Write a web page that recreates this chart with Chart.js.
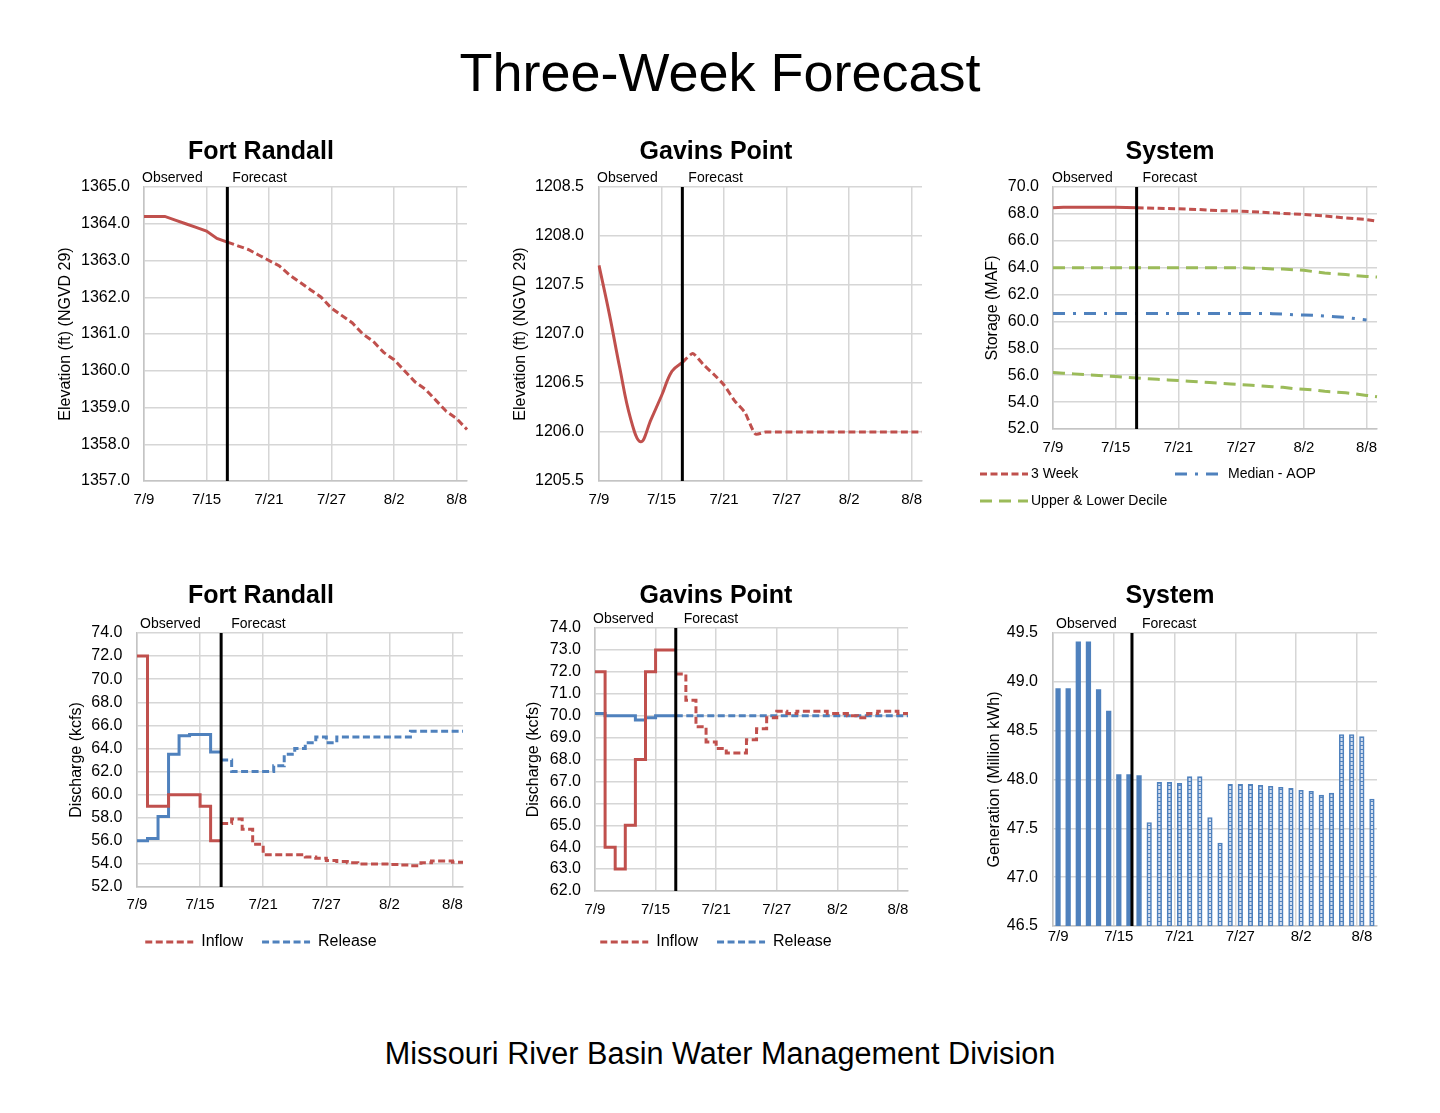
<!DOCTYPE html>
<html>
<head>
<meta charset="utf-8">
<script src="https://cdn.jsdelivr.net/npm/chart.js@4.4.1/dist/chart.umd.min.js"></script>
<style>
  body { margin: 0; background: #fff; width: 1440px; height: 1113px; position: relative; overflow: hidden;
         font-family: "Liberation Sans", Arial, sans-serif; color: #000; }
  .panel { position: absolute; }
  #title { position: absolute; left: 0; top: 40px; width: 1440px; line-height: 64px; text-align: center; font-size: 54px; }
  #footer { position: absolute; left: 0; top: 1033px; width: 1440px; line-height: 40px; text-align: center; font-size: 30.6px; }
</style>
</head>
<body>
<div id="title">Three-Week Forecast</div>
<canvas id="frElev" class="panel" style="left:55px;top:120px" width="425" height="400"></canvas>
<canvas id="gpElev" class="panel" style="left:510px;top:120px" width="425" height="400"></canvas>
<canvas id="sysStor" class="panel" style="left:963px;top:120px" width="432" height="400"></canvas>
<canvas id="frFlow" class="panel" style="left:59px;top:570px" width="421" height="390"></canvas>
<canvas id="gpFlow" class="panel" style="left:524px;top:570px" width="411" height="390"></canvas>
<canvas id="sysGen" class="panel" style="left:963px;top:570px" width="432" height="390"></canvas>
<div id="footer">Missouri River Basin Water Management Division</div>

<script>
// x axis: one category per day, 7/9 .. 8/9
const days = ['7/9', '7/10', '7/11', '7/12', '7/13', '7/14', '7/15', '7/16', '7/17', '7/18', '7/19',
  '7/20', '7/21', '7/22', '7/23', '7/24', '7/25', '7/26', '7/27', '7/28', '7/29', '7/30', '7/31',
  '8/1', '8/2', '8/3', '8/4', '8/5', '8/6', '8/7', '8/8', '8/9'];
const FCST = 8; // 7/17, observed / forecast split

// Fort Randall elevation (ft)
const frElevObs = [1364.2, 1364.2, 1364.2, 1364.1, 1364.0, 1363.9, 1363.8, 1363.6, 1363.5];
const frElevFcst = [1363.5, 1363.4, 1363.3, 1363.15, 1363.0, 1362.85, 1362.6, 1362.4, 1362.2, 1362.0,
  1361.7, 1361.5, 1361.3, 1361.0, 1360.8, 1360.5, 1360.3, 1360.0, 1359.7, 1359.5, 1359.2, 1358.9, 1358.7, 1358.4];

// Gavins Point elevation (ft)
const gpElevObs = [1207.7, 1207.2, 1206.65, 1206.15, 1205.9, 1206.13, 1206.37, 1206.62, 1206.71];
const gpElevFcst = [1206.71, 1206.8, 1206.69, 1206.59, 1206.48, 1206.32, 1206.2, 1205.98, 1206.0, 1206.0,
  1206.0, 1206.0, 1206.0, 1206.0, 1206.0, 1206.0, 1206.0, 1206.0, 1206.0, 1206.0, 1206.0, 1206.0, 1206.0, 1206.0];

// System storage (MAF)
const stor3wObs = [68.45, 68.5, 68.5, 68.5, 68.5, 68.5, 68.5, 68.48, 68.45];
const stor3wFcst = [68.45, 68.44, 68.42, 68.4, 68.38, 68.35, 68.32, 68.28, 68.24, 68.22, 68.2, 68.16,
  68.12, 68.08, 68.04, 68.0, 67.96, 67.9, 67.84, 67.78, 67.7, 67.64, 67.58, 67.46];
const storMedian = [60.6, 60.6, 60.6, 60.6, 60.6, 60.6, 60.6, 60.6, 60.6, 60.6, 60.6, 60.6, 60.6, 60.6,
  60.6, 60.6, 60.6, 60.6, 60.6, 60.6, 60.6, 60.58, 60.55, 60.5, 60.48, 60.45, 60.4, 60.35, 60.3, 60.2, 60.1];
const storUpper = [64.0, 64.0, 64.0, 64.0, 64.0, 64.0, 64.0, 64.0, 64.0, 64.0, 64.0, 64.0, 64.0, 64.0,
  64.0, 64.0, 64.0, 64.0, 64.0, 63.95, 63.95, 63.9, 63.9, 63.85, 63.8, 63.7, 63.6, 63.55, 63.5, 63.4, 63.35, 63.3];
const storLower = [56.2, 56.15, 56.1, 56.05, 56.0, 55.95, 55.9, 55.85, 55.8, 55.75, 55.7, 55.65, 55.6,
  55.55, 55.5, 55.45, 55.4, 55.35, 55.3, 55.25, 55.2, 55.15, 55.1, 55.0, 54.95, 54.9, 54.8, 54.75, 54.7, 54.6, 54.5, 54.4];

// Fort Randall discharge (kcfs)
const frInObs = [72.0, 59.0, 59.0, 60.0, 60.0, 60.0, 59.0, 56.0, 56.0];
const frInFcst = [57.5, 57.9, 57.0, 55.7, 54.8, 54.8, 54.8, 54.8, 54.6, 54.5, 54.3, 54.2, 54.1, 54.0,
  54.0, 54.0, 53.95, 53.9, 53.85, 54.1, 54.25, 54.25, 54.15, 54.15];
const frRelObs = [56.0, 56.2, 58.1, 63.5, 65.1, 65.2, 65.2, 63.7, 63.7];
const frRelFcst = [63.0, 62.0, 62.0, 62.0, 62.0, 62.5, 63.5, 64.0, 64.5, 65.0, 64.5, 65.0, 65.0, 65.0,
  65.0, 65.0, 65.0, 65.0, 65.5, 65.5, 65.5, 65.5, 65.5, 65.5];

// Gavins Point discharge (kcfs)
const gpInObs = [72.0, 64.0, 63.0, 65.0, 68.0, 72.0, 73.0, 73.0, 73.0];
const gpInFcst = [71.9, 70.7, 69.5, 68.8, 68.5, 68.3, 68.3, 68.9, 69.4, 69.9, 70.2, 70.1, 70.2, 70.2,
  70.2, 70.1, 70.1, 70.0, 69.9, 70.1, 70.2, 70.2, 70.1, 70.1];
const gpRelObs = [70.1, 70.0, 70.0, 70.0, 69.8, 69.9, 70.0, 70.0, 70.0];
const gpRelFcst = [70.0, 70.0, 70.0, 70.0, 70.0, 70.0, 70.0, 70.0, 70.0, 70.0, 70.0, 70.0, 70.0, 70.0,
  70.0, 70.0, 70.0, 70.0, 70.0, 70.0, 70.0, 70.0, 70.0, 70.0];

// System generation (million kWh)
const genObs = [48.93, 48.93, 49.41, 49.41, 48.92, 48.70, 48.05, 48.05, 48.04];
const genFcst = [47.56, 47.97, 47.97, 47.96, 48.03, 48.03, 47.61, 47.35, 47.95, 47.95, 47.95, 47.94,
  47.93, 47.92, 47.91, 47.89, 47.88, 47.84, 47.86, 48.46, 48.46, 48.44, 47.80];

const RED = '#c0504d', BLUE = '#4f81bd', GREEN = '#9bbb59';
const GRID = '#d6d6d6', AXIS = '#c4c4c4';
const FONT = "'Liberation Sans', Arial, sans-serif";
const SHORT_DASH = [7, 3.5];

Chart.defaults.font.family = FONT;
Chart.defaults.color = '#000';

// put a partial series on the 32-day axis
function onAxis(values, start) {
  const out = days.map(() => null);
  values.forEach((v, i) => { out[start + i] = v; });
  return out;
}

function series(label, values, start, color, dash, extra) {
  return Object.assign({
    label: label, data: onAxis(values, start), borderColor: color, backgroundColor: color,
    borderWidth: 3, borderDash: dash || [], pointRadius: 0, fill: false
  }, extra || {});
}

// black observed/forecast divider plus its two captions
const dividerPlugin = {
  id: 'divider',
  afterDatasetsDraw(chart, args, opts) {
    if (opts.at === undefined) return;
    const {ctx, chartArea: a} = chart;
    const px = chart.scales.x.getPixelForValue(opts.at);
    ctx.save();
    ctx.strokeStyle = '#000';
    ctx.lineWidth = 3;
    ctx.beginPath();
    ctx.moveTo(px, a.top);
    ctx.lineTo(px, a.bottom);
    ctx.stroke();
    ctx.font = '14px ' + FONT;
    ctx.fillStyle = '#000';
    ctx.textBaseline = 'middle';
    ctx.fillText('Observed', a.left + opts.obsShift, a.top - 9);
    ctx.fillText('Forecast', px + opts.gap, a.top - 9);
    ctx.restore();
  }
};
Chart.register(dividerPlugin);

// storage legend: two columns, wraps onto a second row
const storageLegend = {
  id: 'storageLegend',
  afterDraw(chart, args, opts) {
    if (!opts.items) return;
    const {ctx} = chart;
    const sets = chart.data.datasets;
    ctx.save();
    ctx.font = '14px ' + FONT;
    ctx.textBaseline = 'middle';
    opts.items.forEach(it => {
      const ds = sets[it.dataset];
      const y = chart.chartArea.bottom + it.dy;
      ctx.strokeStyle = ds.borderColor;
      ctx.lineWidth = ds.borderWidth;
      ctx.setLineDash(ds.borderDash);
      ctx.beginPath();
      ctx.moveTo(it.x, y);
      ctx.lineTo(it.x + it.w, y);
      ctx.stroke();
      ctx.setLineDash([]);
      ctx.fillStyle = '#000';
      ctx.fillText(ds.label, it.x + it.w + it.gap, y);
    });
    ctx.restore();
  }
};

function legendLabels(chart) {
  return chart.data.datasets
    .map((ds, i) => ({
      text: ds.label, strokeStyle: ds.borderColor, fillStyle: 'transparent', lineWidth: ds.borderWidth,
      lineDash: ds.borderDash, pointStyle: 'line', hidden: false, datasetIndex: i, inLegend: ds.inLegend
    }))
    .filter(item => item.inLegend);
}

function makeOptions(o) {
  return {
    responsive: false,
    animation: false,
    events: [],
    layout: { padding: { left: 0, right: o.right, top: 0, bottom: o.bottom || 0 } },
    plugins: {
      title: {
        display: true, text: o.title, color: '#000', font: { size: 25, weight: 'bold' },
        padding: { top: o.titleTop, bottom: o.titleBottom }
      },
      legend: o.legend ? {
        display: true, position: 'bottom',
        labels: {
          usePointStyle: true, pointStyle: 'line', pointStyleWidth: 48, padding: 19,
          color: '#000', font: { size: 16 }, generateLabels: legendLabels
        }
      } : { display: false },
      tooltip: { enabled: false },
      divider: { at: o.divider, gap: o.gap, obsShift: o.obsShift }
    },
    scales: {
      x: {
        type: 'category',
        offset: !!o.bars,
        grid: {
          color: c => (c.index % 6 === 0 ? GRID : 'transparent'),
          lineWidth: 1.5, drawTicks: false, offset: !!o.bars
        },
        border: { color: AXIS, width: 1.5 },
        ticks: {
          autoSkip: false, maxRotation: 0, minRotation: 0, padding: o.xPad,
          font: { size: 15 }, color: '#000',
          callback: (v, i) => (i % 6 === 0 ? days[i] : '')
        },
        afterFit: s => { s.height = o.xHeight; }
      },
      y: {
        min: o.min, max: o.max,
        grid: { color: GRID, lineWidth: 1.5, drawTicks: false },
        border: { color: AXIS, width: 1.5 },
        ticks: {
          stepSize: o.step, autoSkip: false, padding: o.yPad, font: { size: 16 }, color: '#000',
          callback: v => v.toFixed(1)
        },
        title: {
          display: true, text: o.yTitle, color: '#000', font: { size: 16 },
          padding: { top: o.yTitlePad, bottom: 0 }
        },
        afterFit: s => { s.width = o.yWidth; }
      }
    }
  };
}

// 1. Fort Randall elevation
new Chart(document.getElementById('frElev'), {
  type: 'line',
  data: {
    labels: days,
    datasets: [
      series('Observed', frElevObs, 0, RED),
      series('Forecast', frElevFcst, FCST, RED, SHORT_DASH)
    ]
  },
  options: makeOptions({
    title: 'Fort Randall', right: 13, titleTop: 17, titleBottom: 20,
    min: 1357, max: 1365, step: 1, yTitle: 'Elevation (ft) (NGVD 29)', yWidth: 89, yTitlePad: 1.4, yPad: 14,
    xHeight: 39, xPad: 10, divider: FCST, gap: 5, obsShift: -2
  })
});

// 2. Gavins Point elevation
new Chart(document.getElementById('gpElev'), {
  type: 'line',
  data: {
    labels: days,
    datasets: [
      series('Observed', gpElevObs, 0, RED, [], { tension: 0.4 }),
      series('Forecast', gpElevFcst, FCST, RED, SHORT_DASH, { tension: 0.2 })
    ]
  },
  options: makeOptions({
    title: 'Gavins Point', right: 13, titleTop: 17, titleBottom: 20,
    min: 1205.5, max: 1208.5, step: 0.5, yTitle: 'Elevation (ft) (NGVD 29)', yWidth: 89, yTitlePad: 1.4, yPad: 15,
    xHeight: 39, xPad: 10, divider: FCST, gap: 6, obsShift: -2
  })
});

// 3. System storage
const storOptions = makeOptions({
  title: 'System', right: 18, bottom: 51, titleTop: 17, titleBottom: 20,
  min: 52, max: 70, step: 2, yTitle: 'Storage (MAF)', yWidth: 90, yTitlePad: 20.4, yPad: 14,
  xHeight: 40, xPad: 10, divider: FCST, gap: 6, obsShift: -1
});
storOptions.plugins.storageLegend = {
  items: [
    { dataset: 1, x: 17, dy: 45, w: 48, gap: 3 },
    { dataset: 2, x: 212, dy: 45, w: 43, gap: 10 },
    { dataset: 3, x: 17, dy: 72, w: 48, gap: 3 }
  ]
};
new Chart(document.getElementById('sysStor'), {
  type: 'line',
  data: {
    labels: days,
    datasets: [
      series('3 Week', stor3wObs, 0, RED),
      series('3 Week', stor3wFcst, FCST, RED, SHORT_DASH),
      series('Median - AOP', storMedian, 0, BLUE, [12, 8, 3, 8]),
      series('Upper & Lower Decile', storUpper, 0, GREEN, [12, 7]),
      series('Upper & Lower Decile', storLower, 0, GREEN, [12, 7])
    ]
  },
  options: storOptions,
  plugins: [storageLegend]
});

// 4. Fort Randall discharge
new Chart(document.getElementById('frFlow'), {
  type: 'line',
  data: {
    labels: days,
    datasets: [
      series('Inflow', frInObs, 0, RED, [], { stepped: true }),
      series('Release', frRelObs, 0, BLUE, [], { stepped: true }),
      series('Inflow', frInFcst, FCST, RED, SHORT_DASH, { stepped: true, inLegend: true }),
      series('Release', frRelFcst, FCST, BLUE, SHORT_DASH, { stepped: true, inLegend: true })
    ]
  },
  options: makeOptions({
    title: 'Fort Randall', right: 17, titleTop: 11, titleBottom: 22, legend: true,
    min: 52, max: 74, step: 2, yTitle: 'Discharge (kcfs)', yWidth: 78, yTitlePad: 8.1, yPad: 14.6,
    xHeight: 28, xPad: 9, divider: FCST, gap: 10, obsShift: 3
  })
});

// 5. Gavins Point discharge
new Chart(document.getElementById('gpFlow'), {
  type: 'line',
  data: {
    labels: days,
    datasets: [
      series('Inflow', gpInObs, 0, RED, [], { stepped: true }),
      series('Release', gpRelObs, 0, BLUE, [], { stepped: true }),
      series('Inflow', gpInFcst, FCST, RED, SHORT_DASH, { stepped: true, inLegend: true }),
      series('Release', gpRelFcst, FCST, BLUE, SHORT_DASH, { stepped: true, inLegend: true })
    ]
  },
  options: makeOptions({
    title: 'Gavins Point', right: 27, titleTop: 11, titleBottom: 17, legend: true,
    min: 62, max: 74, step: 1, yTitle: 'Discharge (kcfs)', yWidth: 71, yTitlePad: 0.4, yPad: 14,
    xHeight: 24, xPad: 10, divider: FCST, gap: 8, obsShift: -2
  })
});

// 6. System generation, forecast bars hatched
const stripe = document.createElement('canvas');
stripe.width = 1;
stripe.height = 4;
const sctx = stripe.getContext('2d');
sctx.fillStyle = '#d2def0';
sctx.fillRect(0, 0, 1, 3);
sctx.fillStyle = BLUE;
sctx.fillRect(0, 3, 1, 1);
const stripePattern = sctx.createPattern(stripe, 'repeat');

new Chart(document.getElementById('sysGen'), {
  type: 'bar',
  data: {
    labels: days,
    datasets: [{
      label: 'Generation',
      data: genObs.concat(genFcst),
      backgroundColor: c => (c.dataIndex < genObs.length ? BLUE : stripePattern),
      borderColor: BLUE,
      borderWidth: c => (c.dataIndex < genObs.length ? 0 : 1.6),
      barThickness: 4.6
    }]
  },
  options: makeOptions({
    title: 'System', right: 18, bars: true, titleTop: 11, titleBottom: 22,
    min: 46.5, max: 49.5, step: 0.5, yTitle: 'Generation (Million kWh)', yWidth: 90, yTitlePad: 22.4, yPad: 15,
    xHeight: 34, xPad: 2, divider: 7.3, gap: 10, obsShift: 3
  })
});
</script>
</body>
</html>
